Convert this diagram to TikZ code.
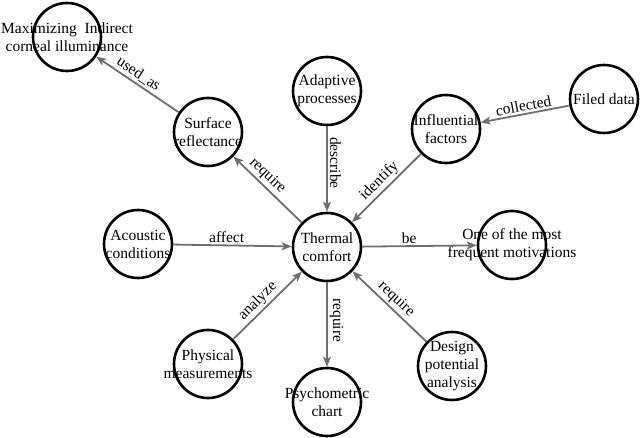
\documentclass[tikz,border=0pt]{standalone}
\usepackage{fontspec}
\setmainfont{Liberation Serif}
\usetikzlibrary{arrows.meta}
\definecolor{edgegray}{RGB}{110,110,110}
\begin{document}
\begin{tikzpicture}[x=1pt,y=-1pt,
  cnode/.style={circle,draw=black,line width=2.6pt,minimum size=68pt,inner sep=0pt},
  ctext/.style={font=\fontsize{15.5}{18}\selectfont,align=center,inner sep=0pt},
  edge/.style={draw=edgegray,line width=1.8pt,-{Stealth[length=10pt,width=8pt,inset=2.5pt]}},
  elab/.style={font=\fontsize{15.5}{18}\selectfont,sloped,above,inner sep=2pt,text=black}]
\useasboundingbox (0,0) rectangle (640,438);

\node[cnode,label={[ctext]center:Maximizing~ Indirect\\corneal illuminance}] (max) at (67,37) {};
\node[cnode,label={[ctext]center:Surface\\reflectance}] (sur) at (208,132) {};
\node[cnode,label={[ctext]center:Adaptive\\processes}] (ada) at (327,91) {};
\node[cnode,label={[ctext]center:Influential\\factors}] (inf) at (446,129) {};
\node[cnode,label={[ctext]center:Filed data}] (fil) at (604,99) {};
\node[cnode,label={[ctext]center:Thermal\\comfort}] (tc) at (327,247) {};
\node[cnode,label={[ctext]center:Acoustic\\conditions}] (aco) at (138,244) {};
\node[cnode,label={[ctext]center:One of the most\\frequent motivations}] (one) at (512,245) {};
\node[cnode,label={[ctext]center:Physical\\measurements}] (phy) at (208,364) {};
\node[cnode,label={[ctext]center:Psychometric\\chart}] (psy) at (327,402) {};
\node[cnode,label={[ctext]center:Design\\potential\\analysis}] (des) at (452,366) {};

\draw[edge] (sur) -- node[elab,pos=0.55] {used\_as} (max);
\draw[edge] (tc) -- node[elab,pos=0.6] {require} (sur);
\draw[edge] (ada) -- node[elab,pos=0.43] {describe} (tc);
\draw[edge] (inf) -- node[elab,pos=0.5] {identify} (tc);
\draw[edge] (fil) -- node[elab,pos=0.5] {collected} (inf);
\draw[edge] (aco) -- node[elab,pos=0.45] {affect} (tc);
\draw[edge] (tc) -- node[elab,pos=0.41] {be} (one);
\draw[edge] (phy) -- node[elab,pos=0.46] {analyze} (tc);
\draw[edge] (tc) -- node[elab,pos=0.45] {require} (psy);
\draw[edge] (des) -- node[elab,pos=0.5] {require} (tc);
\end{tikzpicture}
\end{document}
